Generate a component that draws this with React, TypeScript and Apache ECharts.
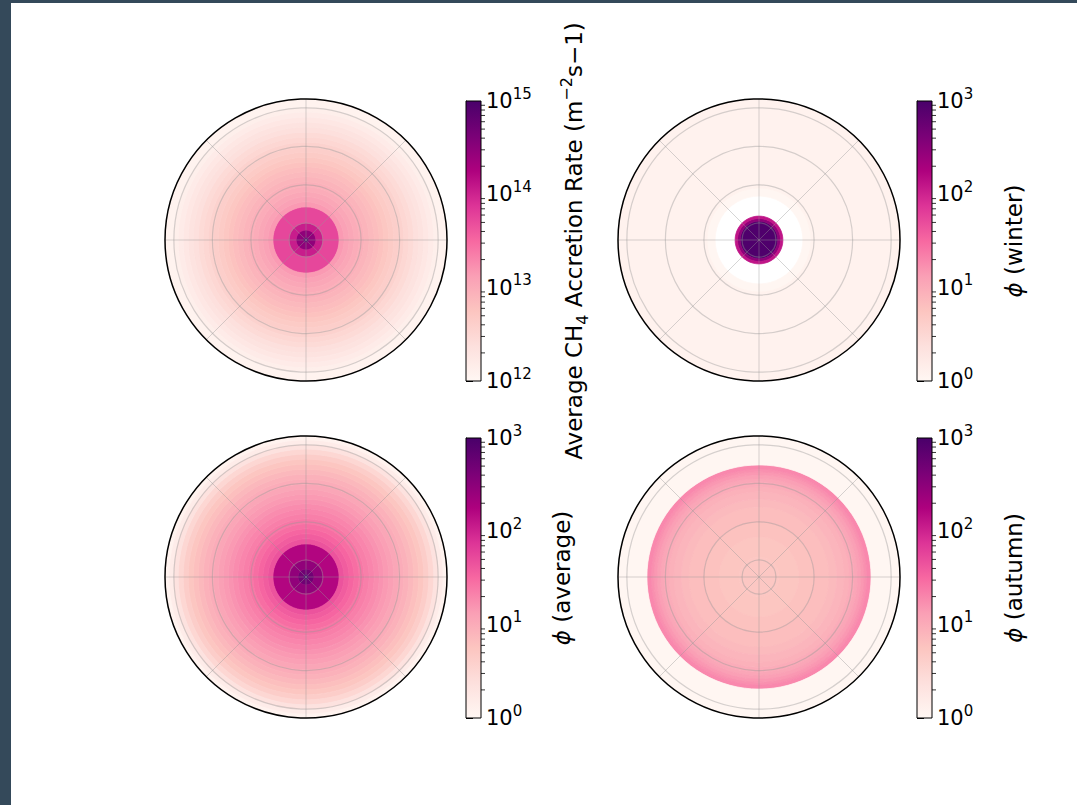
import React, { useEffect, useRef } from "react";
import * as echarts from "echarts";

// matplotlib "RdPu" colormap stops
const RDPU = ["#fff7f3", "#fde0dd", "#fcc5c0", "#fa9fb5", "#f768a1", "#dd3497", "#ae017e", "#7a0177", "#49006a"];

// Ring outer radii (degrees of colatitude from the pole; plot edge = 36.6) and ring values
const accretionRadii = [0.78, 2.6, 4.4, 8.6, 9.9, 11.2, 12.5, 13.8, 15.1, 16.4, 17.7, 19.0, 20.2, 21.5, 22.8, 24.1, 25.4, 26.7, 28.0, 29.3, 30.6, 31.9, 33.2, 34.5, 36.6];
const accretionValues = [7e14, 3e14, 1.1e14, 5.5e13, 1.45e13, 1.25e13, 1.1e13, 1.0e13, 9e12, 8.2e12, 7.4e12, 6.7e12, 6e12, 5.3e12, 4.7e12, 4.2e12, 3.7e12, 3.2e12, 2.8e12, 2.4e12, 2.1e12, 1.8e12, 1.55e12, 1.35e12, 1.15e12];

const winterRadii = [4.9, 5.6, 6.2, 11.4, 13.5, 36.6];
const winterValues: (number | null)[] = [900, 300, 130, null, 1.05, 1.2];

const averageRadii = [0.78, 2.1, 4.4, 8.6, 9.9, 11.2, 12.5, 13.8, 15.1, 16.4, 17.7, 19.0, 20.2, 21.5, 22.8, 24.1, 25.4, 26.7, 28.0, 29.3, 30.6, 31.9, 33.2, 34.5, 35.6, 36.6];
const averageValues = [950, 500, 290, 165, 45, 38, 33, 29, 25, 22, 20, 18, 16, 14.5, 13, 11.5, 10, 8.8, 7.6, 6.4, 5.4, 4.3, 3.2, 2.2, 1.5, 1.15];

const autumnRadii = [5.2, 10.4, 14.3, 18.2, 20.2, 22.1, 23.4, 24.7, 25.6, 26.5, 27.3, 28, 29.1, 36.6];
const autumnValues = [5.2, 5.5, 6, 6.6, 7.2, 8, 8.8, 10, 11.5, 13, 15, 17, 19, 1.05];

// radial grid circles and axis extent
const gridRadii = [4.4, 14.3, 24.3, 34.3];
const radiusMax = 36.6;

// colorbar ticks
const accretionTicks = [1e12, 1e13, 1e14, 1e15];
const phiTicks = [1, 10, 100, 1000];

const accretionTitle = "Average CH{sub|4} Accretion Rate (m{sup|−2}s−1)";
const winterTitle = "{phi|ϕ} (winter)";
const averageTitle = "{phi|ϕ} (average)";
const autumnTitle = "{phi|ϕ} (autumn)";

const FONT = "DejaVu Sans";
const FS = 21;
const TFS = 23;

const panels = [
  { radii: accretionRadii, values: accretionValues, ticks: accretionTicks, title: accretionTitle, cx: 306, cy: 240, barX: 466, barY: 101, gap: 77 },
  { radii: winterRadii, values: winterValues, ticks: phiTicks, title: winterTitle, cx: 759, cy: 240, barX: 917, barY: 101, gap: 66 },
  { radii: averageRadii, values: averageValues, ticks: phiTicks, title: averageTitle, cx: 306, cy: 577, barX: 466, barY: 438, gap: 65 },
  { radii: autumnRadii, values: autumnValues, ticks: phiTicks, title: autumnTitle, cx: 759, cy: 577, barX: 917, barY: 438, gap: 66 },
];

const labelRich = {
  sup: { fontSize: 15, lineHeight: 15, verticalAlign: "top", fontFamily: FONT, color: "#000" },
};
const titleRich = {
  sup: { fontSize: 16, lineHeight: 16, verticalAlign: "top", fontFamily: FONT, color: "#000" },
  sub: { fontSize: 16, lineHeight: 16, verticalAlign: "bottom", fontFamily: FONT, color: "#000" },
  phi: { fontSize: TFS, lineHeight: 32, fontStyle: "italic", fontFamily: FONT, color: "#000" },
};

function minorTicks(ticks: number[]) {
  const out: number[] = [];
  for (let i = 0; i < ticks.length - 1; i++) {
    for (let k = 2; k <= 9; k++) out.push(ticks[i] * k);
  }
  return out;
}

function buildOption() {
  const series: any[] = [];
  const visualMap: any[] = [];

  panels.forEach((p, i) => {
    const rings: any[] = [];
    let inner = 0;
    p.radii.forEach((r, k) => {
      const v = p.values[k];
      if (v != null) rings.push([r, 0, inner, v, Math.log10(v)]);
      inner = r;
    });
    series.push({
      type: "custom",
      coordinateSystem: "polar",
      polarIndex: i,
      dimensions: ["radius", "angle", "inner", "value", "logv"],
      encode: { radius: 0, angle: 1 },
      data: rings,
      z: 2,
      silent: true,
      renderItem: (params: any, api: any) => {
        const cs = params.coordSys;
        const cx = cs.cx, cy = cs.cy;
        const pr = (r: number) => {
          const pt = api.coord([r, 0]);
          return Math.hypot(pt[0] - cx, pt[1] - cy);
        };
        const color = api.visual("color");
        return {
          type: "sector",
          shape: { cx, cy, r0: pr(api.value(2)), r: pr(api.value(0)), startAngle: 0, endAngle: Math.PI * 2 },
          style: { fill: color, stroke: color, lineWidth: 0.8 },
        };
      },
    });
    visualMap.push({
      type: "continuous",
      show: false,
      seriesIndex: i,
      dimension: 4,
      min: Math.log10(p.ticks[0]),
      max: Math.log10(p.ticks[p.ticks.length - 1]),
      inRange: { color: RDPU },
    });
  });

  panels.forEach((p, i) => {
    // grid circles
    series.push({
      type: "custom",
      coordinateSystem: "polar",
      polarIndex: i,
      data: gridRadii.map((r) => [r, 0]),
      z: 3,
      silent: true,
      renderItem: (params: any, api: any) => {
        const cs = params.coordSys;
        const pt = api.coord([api.value(0), 0]);
        const r = Math.hypot(pt[0] - cs.cx, pt[1] - cs.cy);
        return {
          type: "circle",
          shape: { cx: cs.cx, cy: cs.cy, r },
          style: { fill: "none", stroke: "rgba(150,150,150,0.4)", lineWidth: 1.2 },
        };
      },
    });
    // colorbar gradient
    const lo = p.ticks[0];
    const hi = p.ticks[p.ticks.length - 1];
    series.push({
      type: "custom",
      xAxisIndex: i,
      yAxisIndex: i,
      data: [[0, lo, 1, hi]],
      z: 2,
      silent: true,
      renderItem: (params: any, api: any) => {
        const a = api.coord([api.value(0), api.value(1)]);
        const b = api.coord([api.value(2), api.value(3)]);
        return {
          type: "rect",
          shape: { x: a[0], y: b[1], width: b[0] - a[0], height: a[1] - b[1] },
          style: {
            fill: new echarts.graphic.LinearGradient(0, 1, 0, 0, RDPU.map((c, k) => ({ offset: k / 8, color: c }))),
            stroke: "#000",
            lineWidth: 1,
          },
        };
      },
    });
    // minor ticks
    series.push({
      type: "custom",
      xAxisIndex: i,
      yAxisIndex: i,
      data: minorTicks(p.ticks).map((v) => [1, v]),
      z: 3,
      silent: true,
      renderItem: (params: any, api: any) => {
        const pt = api.coord([api.value(0), api.value(1)]);
        return {
          type: "line",
          shape: { x1: pt[0], y1: pt[1], x2: pt[0] + 4, y2: pt[1] },
          style: { stroke: "#000", lineWidth: 0.8 },
        };
      },
    });
  });

  return {
    animation: false,
    backgroundColor: "#ffffff",
    textStyle: { fontFamily: FONT },
    graphic: [
      { type: "rect", shape: { x: 0, y: 0, width: 1077, height: 3 }, style: { fill: "#34495a" }, z: 100 },
      { type: "rect", shape: { x: 0, y: 0, width: 11, height: 805 }, style: { fill: "#34495a" }, z: 100 },
    ],
    polar: panels.map((p) => ({ center: [p.cx, p.cy], radius: 141 })),
    angleAxis: panels.map((p, i) => ({
      polarIndex: i,
      type: "value",
      min: 0,
      max: 360,
      interval: 45,
      startAngle: 0,
      z: 10,
      axisLine: { show: true, lineStyle: { color: "#000", width: 1.5 } },
      axisTick: { show: false },
      axisLabel: { show: false },
      splitLine: { show: true, lineStyle: { color: "rgba(150,150,150,0.4)", width: 1 } },
    })),
    radiusAxis: panels.map((p, i) => ({
      polarIndex: i,
      type: "value",
      min: 0,
      max: radiusMax,
      axisLine: { show: false },
      axisTick: { show: false },
      axisLabel: { show: false },
      splitLine: { show: false },
    })),
    grid: panels.map((p) => ({ left: p.barX, top: p.barY, width: 15, height: 280 })),
    xAxis: panels.map((p, i) => ({ gridIndex: i, type: "value", min: 0, max: 1, show: false })),
    yAxis: panels.map((p, i) => ({
      gridIndex: i,
      type: "log",
      logBase: 10,
      min: p.ticks[0],
      max: p.ticks[p.ticks.length - 1],
      position: "right",
      axisLine: { show: true, lineStyle: { color: "#000", width: 1 } },
      axisTick: { show: true, length: 7, lineStyle: { color: "#000", width: 1 } },
      splitLine: { show: false },
      axisLabel: {
        show: true,
        margin: 5,
        color: "#000",
        fontSize: FS,
        fontFamily: FONT,
        lineHeight: 30,
        showMinLabel: true,
        showMaxLabel: true,
        formatter: (v: number) => "10{sup|" + Math.round(Math.log10(v)) + "}",
        rich: labelRich,
      },
      name: p.title,
      nameLocation: "middle",
      nameRotate: 90,
      nameGap: p.gap,
      nameTextStyle: { color: "#000", fontSize: TFS, fontFamily: FONT, lineHeight: 32, rich: titleRich },
    })),
    visualMap,
    series,
  };
}

export default function App() {
  const ref = useRef<HTMLDivElement>(null);
  useEffect(() => {
    if (!ref.current) return;
    const chart = echarts.init(ref.current, undefined, { renderer: "svg" });
    chart.setOption(buildOption() as any);
    return () => chart.dispose();
  }, []);
  return (
    <div style={{ position: "fixed", left: 0, top: 0, width: 1077, height: 805, background: "#fff" }}>
      <div ref={ref} style={{ width: 1077, height: 805 }} />
    </div>
  );
}
